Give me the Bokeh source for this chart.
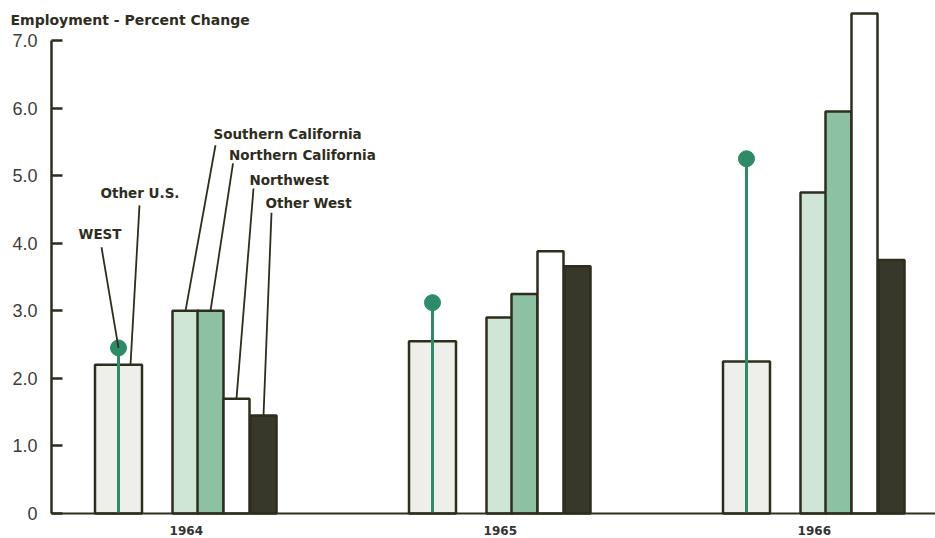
from bokeh.plotting import figure
from bokeh.models import Range1d, FixedTicker, Label
from bokeh.embed import file_html
from bokeh.resources import INLINE

years = ["1964", "1965", "1966"]
other_us = [2.2, 2.55, 2.25]
west = [2.45, 3.12, 5.25]
southern_ca = [3.0, 2.9, 4.75]
northern_ca = [3.0, 3.25, 5.95]
northwest = [1.7, 3.88, 7.4]
other_west = [1.45, 3.66, 3.75]
y_ticks = [0, 1, 2, 3, 4, 5, 6, 7]
y_tick_labels = ["0", "1.0", "2.0", "3.0", "4.0", "5.0", "6.0", "7.0"]

STROKE = "#2e2d1e"
GREEN = "#2e8b68"
TEXT = "#2e2d1e"

W, H = 935, 538
PX_UNIT = 314.0           # px per group spacing
X0 = -118.0 / PX_UNIT     # frame left (first group's centre sits 118px in)
X1 = X0 + W / PX_UNIT
X_AXIS = X0 + 51.0 / PX_UNIT
PX_Y = 67.57              # px per percent
BASE = 513                # canvas y of the zero line
Y0 = -(H - BASE) / PX_Y
Y1 = BASE / PX_Y

p = figure(width=W, height=H, output_backend="svg", toolbar_location=None,
           x_range=Range1d(X0, X1), y_range=Range1d(Y0, Y1),
           min_border_left=0, min_border_right=0, min_border_top=0,
           min_border_bottom=0, background_fill_color="white",
           border_fill_color="white", outline_line_color=None)
p.grid.visible = False

xs = list(range(len(years)))
ous_w = 47 / PX_UNIT
bw = 26 / PX_UNIT
offs = [67 / PX_UNIT, 92 / PX_UNIT, 118 / PX_UNIT, 145 / PX_UNIT]

# Other U.S. bars
p.vbar(x=xs, top=other_us, width=ous_w, bottom=0, fill_color="#eeeeea",
       line_color=STROKE, line_width=2.5)

series = [(southern_ca, "#cfe5d5"), (northern_ca, "#8dc1a3"),
          (northwest, "#ffffff"), (other_west, "#37372a")]
for (vals, col), off in zip(series, offs):
    p.vbar(x=[x + off for x in xs], top=vals, width=bw, bottom=0,
           fill_color=col, line_color=STROKE, line_width=2.5)

# WEST lollipops
p.segment(x0=xs, y0=[0] * 3, x1=xs, y1=west, line_color=GREEN, line_width=3)
p.scatter(x=xs, y=west, size=16, fill_color=GREEN, line_color=GREEN)

# axes
yax = p.yaxis[0]
yax.fixed_location = X_AXIS
yax.bounds = (0, 7)
yax.ticker = FixedTicker(ticks=y_ticks)
yax.major_label_overrides = {t: l for t, l in zip(y_ticks, y_tick_labels)}
yax.major_tick_in = 11
yax.major_tick_out = 0
yax.minor_tick_line_color = None
yax.axis_line_color = STROKE
yax.axis_line_width = 2.5
yax.major_tick_line_color = STROKE
yax.major_tick_line_width = 2.5
yax.major_label_text_font = "Liberation Sans"
yax.major_label_text_font_size = "18px"
yax.major_label_text_color = "#3c3c3c"
yax.major_label_standoff = 14

xax = p.xaxis[0]
xax.fixed_location = 0
centers = [x + 0.216 for x in xs]
xax.bounds = (X_AXIS, X1)
xax.ticker = FixedTicker(ticks=centers)
xax.major_label_overrides = {c: y for c, y in zip(centers, years)}
xax.major_tick_in = 0
xax.major_tick_out = 0
xax.minor_tick_line_color = None
xax.axis_line_color = STROKE
xax.axis_line_width = 2
xax.major_label_text_font = "DejaVu Sans"
xax.major_label_text_font_style = "bold"
xax.major_label_text_font_size = "12px"
xax.major_label_text_color = "#333333"
xax.major_label_standoff = 12

# title label
p.add_layout(Label(x=X0 + 10 / PX_UNIT, y=(BASE - 19) / PX_Y,
                   text="Employment - Percent Change",
                   text_font="DejaVu Sans", text_font_style="bold", text_font_size="14px",
                   text_color=TEXT, text_baseline="middle", text_align="left"))

# annotation labels with leader lines (first group)
leaders = [
    # text, bar x, bar top, line-top dx(px), line-top value, label dx(px), label value
    ("WEST", xs[0], west[0], -17, 3.94, -40, 4.14),
    ("Other U.S.", xs[0] + 12 / PX_UNIT, other_us[0], 9, 4.56, -30, 4.74),
    ("Southern California", xs[0] + offs[0], southern_ca[0], 30, 5.45, 28, 5.62),
    ("Northern California", xs[0] + offs[1], northern_ca[0], 22.5, 5.18, 18.5, 5.30),
    ("Northwest", xs[0] + offs[2], northwest[0], 17, 4.81, 13, 4.93),
    ("Other West", xs[0] + offs[3], other_west[0], 8, 4.45, 2, 4.59),
]
lx0, ly0, lx1, ly1 = [], [], [], []
for text, bx, top, tdx, ty, ldx, ly in leaders:
    lx0.append(bx)
    ly0.append(top)
    lx1.append(bx + tdx / PX_UNIT)
    ly1.append(ty)
    p.add_layout(Label(x=bx + ldx / PX_UNIT, y=ly, text=text, text_font="DejaVu Sans",
                       text_font_style="bold", text_font_size="13.5px",
                       text_color=TEXT, text_baseline="middle", text_align="left"))
p.segment(x0=lx0, y0=ly0, x1=lx1, y1=ly1, line_color=STROKE, line_width=1.8)

open("out.html", "w").write(file_html(p, INLINE))
